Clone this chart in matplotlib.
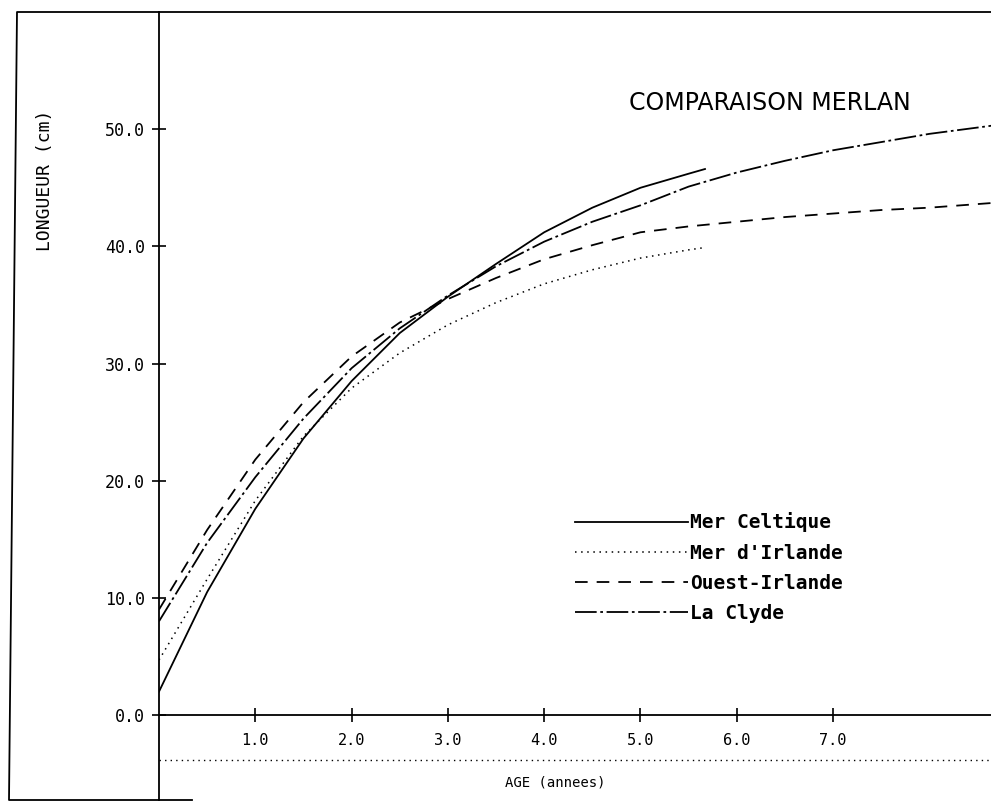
import matplotlib.pyplot as plt
from matplotlib.lines import Line2D

# Growth curves (age in years, length in cm)
age_celtique = [0, 0.5, 1, 1.5, 2, 2.5, 3, 3.5, 4, 4.5, 5, 5.5, 5.67]
len_celtique = [2.0, 10.5, 17.6, 23.6, 28.5, 32.6, 35.7, 38.5, 41.2, 43.3, 45.0, 46.2, 46.6]

age_irlande = [0, 0.5, 1, 1.5, 2, 2.5, 3, 3.5, 4, 4.5, 5, 5.5, 5.67]
len_irlande = [4.7, 11.6, 18.3, 23.8, 27.9, 30.9, 33.3, 35.2, 36.8, 38.0, 39.0, 39.7, 39.9]

age_ouest = [0, 0.5, 1, 1.5, 2, 2.5, 3, 3.5, 4, 4.5, 5, 5.5, 6, 6.5, 7, 7.5, 8, 8.65]
len_ouest = [9.0, 15.8, 21.8, 26.7, 30.6, 33.5, 35.5, 37.3, 38.9, 40.1, 41.2, 41.7, 42.1, 42.5, 42.8, 43.1, 43.3, 43.7]

age_clyde = [0, 0.5, 1, 1.5, 2, 2.5, 3, 3.5, 4, 4.5, 5, 5.5, 6, 6.5, 7, 7.5, 8, 8.65]
len_clyde = [8.0, 14.7, 20.3, 25.3, 29.6, 33.0, 35.8, 38.3, 40.4, 42.1, 43.5, 45.1, 46.3, 47.3, 48.2, 48.9, 49.6, 50.3]

x_ticks = [1, 2, 3, 4, 5, 6, 7]
y_ticks = [0, 10, 20, 30, 40, 50]

mono = 'DejaVu Sans Mono'

fig = plt.figure(figsize=(9.91, 8.02), dpi=100)
W, H = 991, 802
ax = fig.add_axes([159 / W, 2 / H, 832 / W, 788 / H])
ax.set_xlim(0, 8.64)
ax.set_ylim(-7.25, 60)

lw = 1.3
ax.plot(age_celtique, len_celtique, color='black', lw=lw, ls='-', label='Mer Celtique')
ax.plot(age_irlande, len_irlande, color='black', lw=1.1, ls=(0, (1, 3)), label="Mer d'Irlande")
ax.plot(age_ouest, len_ouest, color='black', lw=lw, ls=(0, (7, 5)), label='Ouest-Irlande')
ax.plot(age_clyde, len_clyde, color='black', lw=lw, ls=(0, (12, 2, 1.5, 2)), label='La Clyde')

# axes: y axis as left spine, x axis through y=0
ax.spines['right'].set_visible(False)
ax.spines['bottom'].set_position(('data', 0))
ax.spines['left'].set_linewidth(1.3)
ax.spines['bottom'].set_linewidth(1.3)
ax.spines['top'].set_linewidth(1.3)

ax.set_xticks(x_ticks)
ax.set_xticklabels(['%.1f' % v for v in x_ticks], family=mono, fontsize=11)
ax.set_yticks(y_ticks)
ax.set_yticklabels(['%.1f' % v for v in y_ticks], family=mono, fontsize=12)
ax.tick_params(axis='x', direction='inout', length=10, width=1.2, pad=8)
ax.tick_params(axis='y', direction='inout', length=10, width=1.2, pad=5)

# dotted guide line below the x tick labels
ax.axhline(-3.85, color='black', lw=1.0, ls=(0, (1, 3)))

ax.text(0.734, 0.885, 'COMPARAISON MERLAN', transform=ax.transAxes,
        ha='center', va='center', fontsize=17, family='DejaVu Sans')

ax.legend(loc='upper left', bbox_to_anchor=(0.5, 0.365), frameon=False,
          prop={'family': mono, 'size': 14, 'weight': 'bold'},
          handlelength=5.8, handletextpad=0.1, labelspacing=0.58,
          borderaxespad=0, borderpad=0)

# axis titles
fig.text(505 / W, 1 - 783 / H, 'AGE (annees)', family=mono, fontsize=10,
         ha='left', va='center')
fig.text(45 / W, 1 - 180 / H, 'LONGUEUR (cm)', family=mono, fontsize=13,
         rotation=90, ha='center', va='center')

# outer frame of the scanned page
fig.add_artist(Line2D([192 / W, 9 / W, 17 / W, 159 / W],
                      [1 - 800 / H, 1 - 800 / H, 1 - 12 / H, 1 - 12 / H],
                      color='black', lw=1.3))

fig.savefig('out.png', dpi=100)
